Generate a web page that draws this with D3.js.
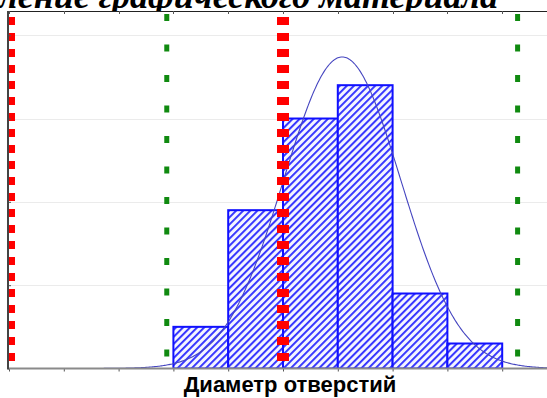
<!DOCTYPE html>
<html><head><meta charset="utf-8">
<script src="https://cdn.jsdelivr.net/npm/d3@7"></script>
<style>html,body{margin:0;padding:0;background:#fff;overflow:hidden}</style>
</head><body>
<script>
// ---- data ----
const binEdges = [3, 4, 5, 6, 7, 8, 9];
const counts = [5, 19, 30, 34, 9, 3];
const fitMean = 6.08;
const fitSigma = 1.067;
const specLimits = [0, 5];          // red dashed lines
const sigmaLimits = [fitMean - 3 * fitSigma, fitMean + 3 * fitSigma]; // green dotted
const xTicks = d3.range(0, 11);
const yTicks = [10, 20, 30, 40];
const titleText = "Представление графического материала";
const xLabel = "Диаметр отверстий";

(function () {
const W = 547, H = 398;
const svg = d3.select("body").append("svg").attr("width", W).attr("height", H);

const x = d3.scaleLinear().domain([0, 10]).range([9, 9 + 548]);
const y = d3.scaleLinear().domain([0, 40]).range([368.5, 35.2]);
const pL = 8, pT = 11, pB = 368.5, pR = W + 5;

// title (cut at top, as in the source image)
svg.append("text").attr("x", 498).attr("y", 8)
  .attr("text-anchor", "end")
  .attr("font-family", "Liberation Serif, serif")
  .attr("font-weight", "bold").attr("font-style", "italic")
  .attr("font-size", 36).attr("fill", "#000").text(titleText);

// plot background
svg.append("rect").attr("x", pL).attr("y", pT).attr("width", pR - pL).attr("height", pB - pT).attr("fill", "#fff");

const defs = svg.append("defs");
const pat = defs.append("pattern").attr("id", "hatch").attr("patternUnits", "userSpaceOnUse")
  .attr("width", 5).attr("height", 5).attr("patternTransform", "rotate(45)");
pat.append("rect").attr("width", 5).attr("height", 5).attr("fill", "#f4f5ff");
pat.append("rect").attr("x", 0).attr("y", 0).attr("width", 1.9).attr("height", 5).attr("fill", "#2f2fff");
defs.append("clipPath").attr("id", "clip").append("rect")
  .attr("x", pL).attr("y", pT).attr("width", pR - pL).attr("height", pB - pT);

const g = svg.append("g").attr("clip-path", "url(#clip)");

// gridlines
g.selectAll(".grid").data(yTicks).enter().append("line")
  .attr("x1", pL).attr("x2", pR).attr("y1", d => Math.round(y(d)) + 0.5).attr("y2", d => Math.round(y(d)) + 0.5)
  .attr("stroke", "#ebebeb").attr("stroke-width", 1);

// bars
g.selectAll(".bar").data(counts).enter().append("rect")
  .attr("x", (d, i) => x(binEdges[i]))
  .attr("y", d => y(d))
  .attr("width", (d, i) => x(binEdges[i + 1]) - x(binEdges[i]))
  .attr("height", d => pB - y(d))
  .attr("fill", "url(#hatch)").attr("stroke", "#1010ff").attr("stroke-width", 2);

// normal curve
const N = d3.sum(counts), bw = binEdges[1] - binEdges[0];
const curvePts = d3.range(0, 10.5, 0.02).map(v => [v, N * bw / (fitSigma * Math.sqrt(2 * Math.PI)) * Math.exp(-0.5 * ((v - fitMean) / fitSigma) ** 2)]);
g.append("path").datum(curvePts)
  .attr("d", d3.line().x(d => x(d[0])).y(d => y(d[1])))
  .attr("fill", "none").attr("stroke", "#4646c0").attr("stroke-width", 1.1);

// spec lines (red)
g.selectAll(".spec").data(specLimits).enter().append("line")
  .attr("x1", d => x(d)).attr("x2", d => x(d)).attr("y1", pT + 6).attr("y2", pB)
  .attr("stroke", "#ff0000").attr("stroke-width", 12).attr("stroke-dasharray", "8,8");

// 3-sigma lines (green)
g.selectAll(".sig").data(sigmaLimits).enter().append("line")
  .attr("x1", d => x(d)).attr("x2", d => x(d)).attr("y1", pT + 3).attr("y2", pB)
  .attr("stroke", "#108a10").attr("stroke-width", 5).attr("stroke-dasharray", "7,23.5");

// frame: top border with ticks
svg.append("line").attr("x1", pL).attr("x2", W).attr("y1", pT + 0.5).attr("y2", pT + 0.5).attr("stroke", "#222").attr("stroke-width", 1);
svg.selectAll(".ttick").data(xTicks).enter().append("line")
  .attr("x1", d => Math.round(x(d)) + 0.5).attr("x2", d => Math.round(x(d)) + 0.5)
  .attr("y1", pT).attr("y2", pT + 3).attr("stroke", "#555");

// bottom axis
const xAxis = d3.axisBottom(x).tickValues(xTicks).tickSize(3).tickFormat("");
const ax = svg.append("g").attr("transform", `translate(0,${pB})`).call(xAxis);
ax.select(".domain").remove();
ax.selectAll("line").attr("stroke", "#555");
svg.append("line").attr("x1", pL).attr("x2", W).attr("y1", pB).attr("y2", pB).attr("stroke", "#8a8a8a").attr("stroke-width", 2);

// left axis
const yAxis = d3.axisRight(y).tickValues(yTicks).tickSize(3).tickFormat("");
const ay = svg.append("g").attr("transform", `translate(${pL},0)`).call(yAxis);
ay.select(".domain").remove();
ay.selectAll("line").attr("stroke", "#555");
svg.append("line").attr("x1", pL).attr("x2", pL).attr("y1", pT).attr("y2", pB + 1).attr("stroke", "#444").attr("stroke-width", 2);

// x label
svg.append("text").attr("x", 290).attr("y", 392).attr("text-anchor", "middle")
  .attr("font-family", "Liberation Sans, Arial, sans-serif").attr("font-weight", "bold")
  .attr("font-size", 22).attr("fill", "#000").text(xLabel);
})();
</script>
</body></html>
